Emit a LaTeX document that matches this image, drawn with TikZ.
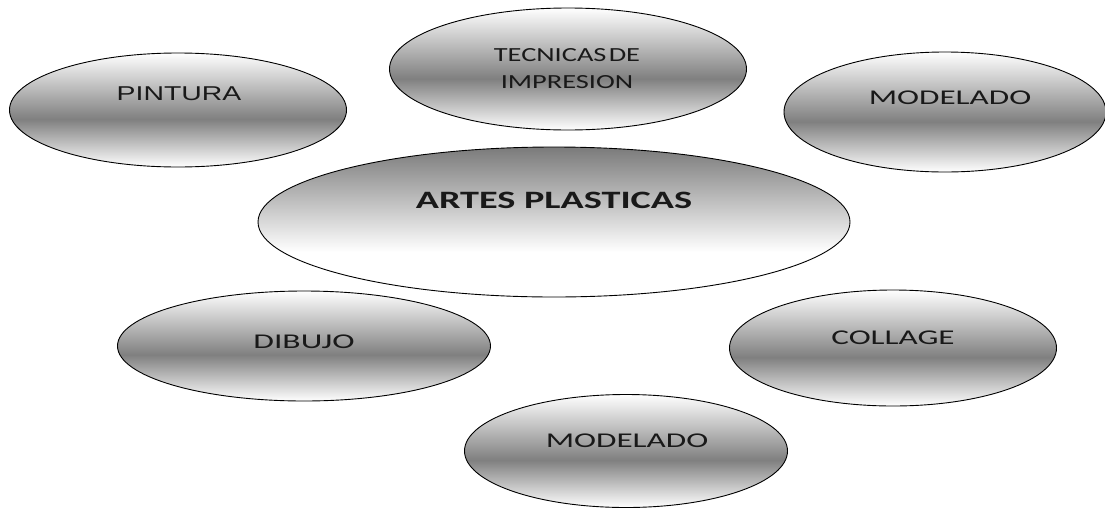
\documentclass[tikz,border=0pt]{standalone}
\usepackage{fontspec}
\setmainfont{Carlito}
\newfontfamily\arialfont{Liberation Sans}
\usetikzlibrary{shapes.geometric}
\pgfdeclareverticalshading{band}{100bp}{color(0bp)=(white); color(25bp)=(white); color(46bp)=(black!50); color(75bp)=(white); color(100bp)=(white)}
\pgfdeclareverticalshading{topgray}{100bp}{color(0bp)=(white); color(40bp)=(white); color(75bp)=(black!52); color(100bp)=(black!52)}
\tikzset{
  ov/.style={ellipse, draw=black, line width=0.9pt, shading=band, inner sep=0pt},
  mainov/.style={ellipse, draw=black, line width=0.9pt, shading=topgray, inner sep=0pt},
  lbl/.style={font=\fontsize{21}{24}\selectfont, text=black!90, align=center, inner sep=0pt},
}
\begin{document}
\begin{tikzpicture}[x=1pt,y=-1pt]
\useasboundingbox (0,0) rectangle (1105,509);
\node[ov, minimum width=337pt, minimum height=114pt] (pin) at (178,110) {};
\node[lbl, font=\arialfont\fontsize{20}{24}\selectfont] (pint) at (179,94) {\scalebox{1.42}[1]{PINTURA}};
\node[ov, minimum width=357pt, minimum height=122pt] (tec) at (568,69) {};
\node[lbl, font=\fontsize{20}{27}\selectfont] (tect) at (567,69) {\scalebox{1.42}[1]{TECNICAS\hspace{0.08em}DE}\\\scalebox{1.42}[1]{IMPRESION}};
\node[ov, minimum width=322pt, minimum height=120pt] (mod1) at (945,112) {};
\node[lbl] (mod1t) at (950,98) {\scalebox{1.58}[1]{MODELADO}};
\node[mainov, minimum width=592pt, minimum height=150pt] (art) at (554,222) {};
\node[lbl, font=\bfseries\fontsize{25}{28}\selectfont] (artt) at (554,200) {\scalebox{1.53}[1]{ARTES PLASTICAS}};
\node[ov, minimum width=373pt, minimum height=110pt] (dib) at (304,346) {};
\node[lbl] (dibt) at (304,342) {\scalebox{1.6}[1]{DIBUJO}};
\node[ov, minimum width=327pt, minimum height=116pt] (col) at (893,348) {};
\node[lbl] (colt) at (893,338) {\scalebox{1.58}[1]{COLLAGE}};
\node[ov, minimum width=323pt, minimum height=113pt] (mod2) at (626,451) {};
\node[lbl] (mod2t) at (627,441) {\scalebox{1.58}[1]{MODELADO}};
\end{tikzpicture}
\end{document}
